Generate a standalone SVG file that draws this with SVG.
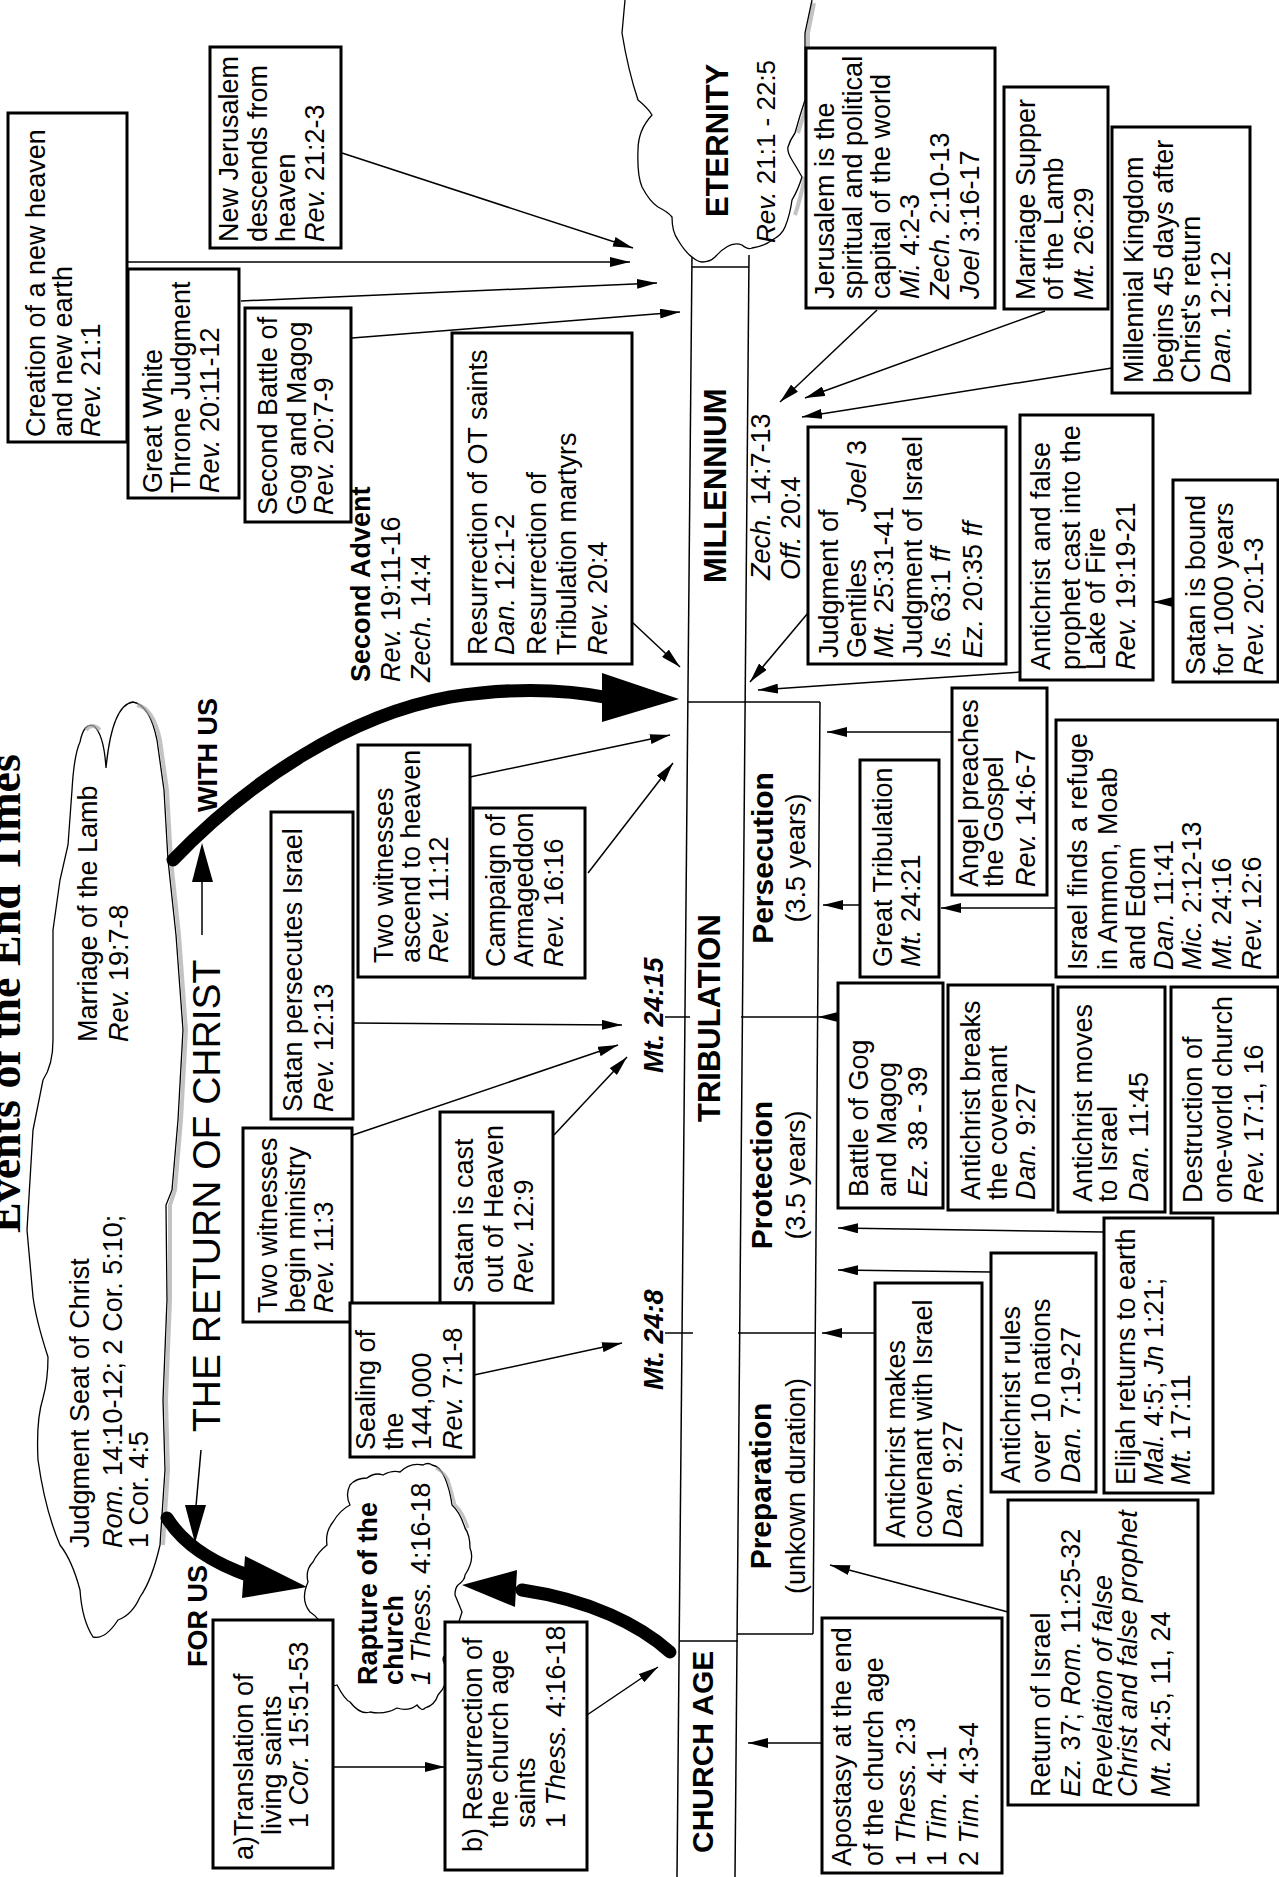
<svg xmlns="http://www.w3.org/2000/svg" width="1279" height="1877" viewBox="0 0 1279 1877">
<defs>
<marker id="ah" viewBox="0 0 20 10" refX="20" refY="5" markerWidth="20" markerHeight="10" markerUnits="userSpaceOnUse" orient="auto"><path d="M0,0 L20,5 L0,10 z" fill="#000"/></marker>
<style>
.t{font-family:"Liberation Sans",Arial,sans-serif;font-size:27px;fill:#000}
.b{font-weight:bold}
.i{font-style:italic}
.hd{font-size:31px;font-weight:bold}
.box{fill:#fff;stroke:#000;stroke-width:3}
.ln{fill:none;stroke:#000;stroke-width:1.5}
.cn{fill:none;stroke:#000;stroke-width:1.5;marker-end:url(#ah)}
.cl{fill:#fff;stroke:#000;stroke-width:1.3}
.sh{fill:none;stroke:#aaa;stroke-width:4;opacity:.7}
.thick{fill:none;stroke:#000;stroke-width:13;stroke-linecap:round}
</style>
</defs>
<rect width="1279" height="1877" fill="#fff"/>

<text id="title" class="t b" style="font-family:'Liberation Serif',serif;font-size:46px" transform="translate(20,1233) rotate(-90)">Events of the End Times</text>

<g id="timeline">
<line class="ln" x1="692" y1="255" x2="677" y2="1877"/>
<line class="ln" x1="749" y1="255" x2="735" y2="1877"/>
<line class="ln" x1="820" y1="702" x2="813" y2="1634"/>
<line class="ln" x1="692" y1="267" x2="749" y2="267"/>
<line class="ln" x1="688" y1="702" x2="820" y2="702"/>
<line class="ln" x1="741" y1="1017" x2="817" y2="1017"/>
<line class="ln" x1="738" y1="1333" x2="815" y2="1333"/>
<line class="ln" x1="679" y1="1641" x2="738" y2="1641"/>
<line class="ln" x1="737" y1="1634" x2="813" y2="1634"/>
<line class="ln" x1="665" y1="1017" x2="690" y2="1017"/>
<line class="ln" x1="665" y1="1333" x2="693" y2="1333"/>
<text class="t b" style="font-size:30px" transform="translate(713,1853) rotate(-90)">CHURCH AGE</text>
<text class="t hd" transform="translate(720,1122) rotate(-90)">TRIBULATION</text>
<text class="t hd" transform="translate(726,583) rotate(-90)">MILLENNIUM</text>
<text class="t" transform="translate(770,580) rotate(-90)"><tspan x="0" y="0"><tspan class="i">Zech.</tspan> 14:7-13</tspan><tspan x="0" y="30"><tspan class="i">Off.</tspan> 20:4</tspan></text>
<text class="t" text-anchor="middle" transform="translate(771,1486) rotate(-90)"><tspan x="0" y="0" class="b" style="font-size:30px">Preparation</tspan><tspan x="0" y="34">(unkown duration)</tspan></text>
<text class="t" text-anchor="middle" transform="translate(772,1175) rotate(-90)"><tspan x="0" y="0" class="b" style="font-size:30px">Protection</tspan><tspan x="0" y="33">(3.5 years)</tspan></text>
<text class="t" text-anchor="middle" transform="translate(773,858) rotate(-90)"><tspan x="0" y="0" class="b" style="font-size:30px">Persecution</tspan><tspan x="0" y="32">(3.5 years)</tspan></text>
<text class="t b i" transform="translate(663,1073) rotate(-90)">Mt. 24:15</text>
<text class="t b i" transform="translate(663,1390) rotate(-90)">Mt. 24:8</text>
</g>

<g id="eternity">
<path fill="#fff" d="M625,0 L622,33 Q628,70 638,100 Q648,108 652,115 Q638,130 638,150 Q637,175 642,187 Q650,202 658,207 Q668,212 672,217 Q672,232 678,240 Q685,252 692,257 Q698,262 702,262 Q710,262 715,257 Q730,240 742,245 Q748,250 752,248 Q765,246 772,240 Q782,235 785,227 Q790,215 792,200 Q798,190 802,177 Q797,168 792,160 Q787,152 788,147 Q790,140 795,133 Q800,115 805,100 L805,33 L812,0 Z"/>
<path class="sh" d="M814,3 L808,33 L808,100 Q803,118 798,133 M805,177 Q800,200 795,215"/>
<path class="ln" style="stroke-width:1.3" d="M625,0 L622,33 Q628,70 638,100 Q648,108 652,115 Q638,130 638,150 Q637,175 642,187 Q650,202 658,207 Q668,212 672,217 Q672,232 678,240 Q685,252 692,257 Q698,262 702,262 Q710,262 715,257 Q730,240 742,245 Q748,250 752,248 Q765,246 772,240 Q782,235 785,227 Q790,215 792,200 Q798,190 802,177 Q797,168 792,160 Q787,152 788,147 Q790,140 795,133 Q800,115 805,100 L805,33 L812,0"/>
<text class="t hd" transform="translate(728,217) rotate(-90)">ETERNITY</text>
<text class="t" style="font-size:26px" transform="translate(775,243) rotate(-90)"><tspan class="i">Rev.</tspan> 21:1 - 22:5</text>
</g>

<g id="bigcloud">
<path class="cl" d="M80,742 Q84,722 94,726 Q104,735 106,768 Q112,705 133,702 Q150,705 157,740 L164,790 L168,860 L176,935 L183,1030 L178,1120 L172,1190 L166,1205 L167,1300 L163,1400 L165,1470 L160,1545 Q152,1580 140,1597 Q132,1615 118,1620 Q105,1640 93,1637 Q82,1620 80,1590 Q72,1560 60,1545 Q45,1510 38,1460 Q36,1420 43,1398 Q48,1380 48,1357 Q36,1320 33,1297 L27,1230 L33,1130 L43,1080 Q53,1065 53,1040 L53,930 L60,880 L68,845 L72,790 Q74,755 80,742 Z"/>
<path class="sh" d="M137,705 Q153,708 160,740 L167,790 L171,860 L179,935 L186,1030 L181,1120 L175,1190 L170,1205 L170,1300 L166,1400 L168,1470 L163,1545 M86,730 Q92,722 100,730"/>
<text class="t" transform="translate(97,1042) rotate(-90)"><tspan x="0" y="0">Marriage of the Lamb</tspan><tspan x="0" y="31"><tspan class="i">Rev.</tspan> 19:7-8</tspan></text>
<text class="t" transform="translate(89,1548) rotate(-90)"><tspan x="0" y="0">Judgment Seat of Christ</tspan><tspan x="0" y="33"><tspan class="i">Rom.</tspan> 14:10-12; 2 Cor. 5:10;</tspan><tspan x="0" y="59">1 Cor. 4:5</tspan></text>
</g>

<g id="rapture">
<path class="cl" d="M308,1582 Q300,1600 310,1612 Q322,1620 320,1628 Q310,1640 313,1648 Q312,1670 320,1678 Q330,1688 337,1685 Q345,1700 350,1702 Q360,1715 370,1712 Q385,1715 397,1708 Q408,1712 417,1705 Q422,1712 425,1708 Q435,1705 438,1695 Q448,1685 448,1668 Q440,1660 445,1655 Q452,1650 452,1642 Q458,1625 462,1612 Q458,1602 455,1595 Q455,1588 458,1585 Q465,1580 465,1575 Q475,1560 470,1548 Q470,1535 465,1528 Q460,1512 452,1505 Q450,1490 445,1478 Q440,1466 432,1465 Q428,1462 423,1465 Q410,1462 400,1472 Q392,1470 383,1475 Q375,1472 367,1478 Q356,1478 350,1485 Q345,1495 350,1505 Q340,1510 333,1522 Q325,1532 327,1545 Q318,1552 313,1562 Q305,1570 308,1582 Z"/>
<path class="sh" style="stroke-width:3" d="M436,1468 Q446,1474 448,1480 Q452,1492 455,1505 Q463,1512 468,1528"/>
<text class="t" transform="translate(377,1685) rotate(-90)"><tspan x="0" y="0" class="b">Rapture of the</tspan><tspan x="0" y="26" class="b">church</tspan><tspan x="0" y="53"><tspan class="i">1 Thess.</tspan> 4:16-18</tspan></text>
</g>

<g id="connectors">
<line class="cn" x1="127" y1="262" x2="630" y2="262"/>
<line class="cn" x1="342" y1="153" x2="633" y2="248"/>
<line class="cn" x1="241" y1="301" x2="657" y2="283"/>
<line class="cn" x1="352" y1="338" x2="680" y2="312"/>
<line class="cn" x1="632" y1="622" x2="680" y2="667"/>
<line class="cn" x1="470" y1="777" x2="670" y2="735"/>
<line class="cn" x1="588" y1="873" x2="673" y2="763"/>
<line class="cn" x1="353" y1="1023" x2="622" y2="1025"/>
<line class="cn" x1="353" y1="1135" x2="618" y2="1045"/>
<line class="cn" x1="554" y1="1135" x2="627" y2="1057"/>
<line class="cn" x1="474" y1="1375" x2="622" y2="1343"/>
<line class="cn" x1="333" y1="1767" x2="445" y2="1767"/>
<line class="cn" x1="587" y1="1715" x2="658" y2="1667"/>
<line class="cn" x1="877" y1="310" x2="780" y2="402"/>
<line class="cn" x1="1045" y1="311" x2="805" y2="398"/>
<line class="cn" x1="1112" y1="368" x2="802" y2="417"/>
<line class="cn" x1="808" y1="613" x2="750" y2="682"/>
<line class="cn" x1="1020" y1="672" x2="758" y2="690"/>
<line class="cn" x1="1173" y1="602" x2="1153" y2="602"/>
<line class="cn" x1="952" y1="732" x2="827" y2="732"/>
<line class="cn" x1="1056" y1="908" x2="941" y2="908"/>
<line class="cn" x1="860" y1="905" x2="823" y2="905"/>
<line class="cn" x1="840" y1="1017" x2="818" y2="1017"/>
<line class="cn" x1="1104" y1="1232" x2="838" y2="1228"/>
<line class="cn" x1="991" y1="1272" x2="838" y2="1270"/>
<line class="cn" x1="875" y1="1333" x2="822" y2="1333"/>
<line class="cn" x1="1008" y1="1612" x2="830" y2="1565"/>
<line class="cn" x1="822" y1="1743" x2="748" y2="1743"/>
<path class="thick" d="M173,860 C250,780 350,715 450,697 C520,686 570,690 610,698"/>
<polygon points="602,673 679,699 602,722" fill="#000"/>
<path class="thick" d="M167,1518 Q190,1555 250,1576"/>
<polygon points="245,1556 307,1587 242,1598" fill="#000"/>
<path class="thick" d="M670,1652 C640,1625 590,1600 522,1590"/>
<polygon points="517,1570 462,1585 515,1607" fill="#000"/>
<line class="ln" x1="201" y1="1450" x2="196" y2="1506"/>
<polygon points="185,1505 195,1543 206,1505" fill="#000"/>
<line class="ln" x1="202" y1="935" x2="202" y2="880"/>
<polygon points="192,882 202,843 213,882" fill="#000"/>
</g>

<g id="returnofchrist">
<text class="t" style="font-size:39px" transform="translate(220,1432) rotate(-90)">THE RETURN OF CHRIST</text>
<text class="t b" transform="translate(217,812) rotate(-90)">WITH US</text>
<text class="t b" transform="translate(207,1667) rotate(-90)">FOR US</text>
</g>

<g id="secondadvent">
<text class="t" transform="translate(370,682) rotate(-90)"><tspan x="0" y="0" class="b">Second Advent</tspan><tspan x="0" y="30"><tspan class="i">Rev.</tspan> 19:11-16</tspan><tspan x="0" y="60"><tspan class="i">Zech.</tspan> 14:4</tspan></text>
</g>

<g id="creation"><rect class="box" x="8" y="113" width="119" height="329"/>
<text class="t" transform="translate(45,437) rotate(-90)"><tspan x="0" y="0">Creation of a new heaven</tspan><tspan x="0" y="27">and new earth</tspan><tspan x="0" y="55"><tspan class="i">Rev.</tspan> 21:1</tspan></text></g>

<g id="newjerusalem"><rect class="box" x="210" y="47" width="131" height="201"/>
<text class="t" transform="translate(238,242) rotate(-90)"><tspan x="0" y="0">New Jerusalem</tspan><tspan x="0" y="28.5">descends from</tspan><tspan x="0" y="57">heaven</tspan><tspan x="0" y="86"><tspan class="i">Rev.</tspan> 21:2-3</tspan></text></g>

<g id="greatwhite"><rect class="box" x="128" y="269" width="111" height="229"/>
<text class="t" transform="translate(162,493) rotate(-90)"><tspan x="0" y="0">Great White</tspan><tspan x="0" y="28">Throne Judgment</tspan><tspan x="0" y="57"><tspan class="i">Rev.</tspan> 20:11-12</tspan></text></g>

<g id="secondbattle"><rect class="box" x="245" y="308" width="106" height="214"/>
<text class="t" transform="translate(277,515) rotate(-90)"><tspan x="0" y="0">Second Battle of</tspan><tspan x="0" y="29">Gog and Magog</tspan><tspan x="0" y="56"><tspan class="i">Rev.</tspan> 20:7-9</tspan></text></g>

<g id="resurrectionot"><rect class="box" x="452" y="333" width="180" height="331"/>
<text class="t" transform="translate(487,655) rotate(-90)"><tspan x="0" y="0">Resurrection of OT saints</tspan><tspan x="0" y="27"><tspan class="i">Dan.</tspan> 12:1-2</tspan><tspan x="0" y="59">Resurrection of</tspan><tspan x="0" y="89">Tribulation martyrs</tspan><tspan x="0" y="120"><tspan class="i">Rev.</tspan> 20:4</tspan></text></g>

<g id="jerusalem"><rect class="box" x="806" y="48" width="189" height="260"/>
<text class="t" transform="translate(834,299) rotate(-90)"><tspan x="0" y="0">Jerusalem is the</tspan><tspan x="0" y="28">spiritual and political</tspan><tspan x="0" y="56">capital of the world</tspan><tspan x="0" y="85"><tspan class="i">Mi.</tspan> 4:2-3</tspan><tspan x="0" y="115"><tspan class="i">Zech.</tspan> 2:10-13</tspan><tspan x="0" y="145"><tspan class="i">Joel</tspan> 3:16-17</tspan></text></g>

<g id="marriagesupper"><rect class="box" x="1004" y="87" width="104" height="222"/>
<text class="t" transform="translate(1035,300) rotate(-90)"><tspan x="0" y="0">Marriage Supper</tspan><tspan x="0" y="28">of the Lamb</tspan><tspan x="0" y="58"><tspan class="i">Mt.</tspan> 26:29</tspan></text></g>

<g id="millennialkingdom"><rect class="box" x="1112" y="127" width="138" height="266"/>
<text class="t" transform="translate(1143,383) rotate(-90)"><tspan x="0" y="0">Millennial Kingdom</tspan><tspan x="0" y="30">begins 45 days after</tspan><tspan x="0" y="57">Christ's return</tspan><tspan x="0" y="87"><tspan class="i">Dan.</tspan> 12:12</tspan></text></g>

<g id="judgmentgentiles"><rect class="box" x="808" y="427" width="198" height="237"/>
<text class="t" transform="translate(838,658) rotate(-90)"><tspan x="0" y="0">Judgment of</tspan><tspan x="0" y="28">Gentiles</tspan><tspan x="146" y="28"><tspan class="i">Joel</tspan> 3</tspan><tspan x="0" y="55"><tspan class="i">Mt.</tspan> 25:31-41</tspan><tspan x="0" y="84">Judgment of Israel</tspan><tspan x="0" y="112"><tspan class="i">Is.</tspan> 63:1 <tspan class="i">ff</tspan></tspan><tspan x="0" y="144"><tspan class="i">Ez.</tspan> 20:35 <tspan class="i">ff</tspan></tspan></text></g>

<g id="antichristfalse"><rect class="box" x="1020" y="415" width="133" height="265"/>
<text class="t" transform="translate(1050,670) rotate(-90)"><tspan x="0" y="0">Antichrist and false</tspan><tspan x="0" y="30">prophet cast into the</tspan><tspan x="0" y="55">Lake of Fire</tspan><tspan x="0" y="85"><tspan class="i">Rev.</tspan> 19:19-21</tspan></text></g>

<g id="satanbound"><rect class="box" x="1173" y="480" width="105" height="202"/>
<text class="t" transform="translate(1205,675) rotate(-90)"><tspan x="0" y="0">Satan is bound</tspan><tspan x="0" y="28">for 1000 years</tspan><tspan x="0" y="58"><tspan class="i">Rev.</tspan> 20:1-3</tspan></text></g>

<g id="angel"><rect class="box" x="952" y="688" width="95" height="207"/>
<text class="t" transform="translate(978,887) rotate(-90)"><tspan x="0" y="0">Angel preaches</tspan><tspan x="0" y="25">the Gospel</tspan><tspan x="0" y="57"><tspan class="i">Rev.</tspan> 14:6-7</tspan></text></g>

<g id="greattribulation"><rect class="box" x="860" y="760" width="79" height="217"/>
<text class="t" transform="translate(892,967) rotate(-90)"><tspan x="0" y="0">Great Tribulation</tspan><tspan x="0" y="28"><tspan class="i">Mt.</tspan> 24:21</tspan></text></g>

<g id="israelrefuge"><rect class="box" x="1056" y="720" width="222" height="257"/>
<text class="t" transform="translate(1087,970) rotate(-90)"><tspan x="0" y="0">Israel finds a refuge</tspan><tspan x="0" y="30">in Ammon, Moab</tspan><tspan x="0" y="58">and Edom</tspan><tspan x="0" y="86"><tspan class="i">Dan.</tspan> 11:41</tspan><tspan x="0" y="114"><tspan class="i">Mic.</tspan> 2:12-13</tspan><tspan x="0" y="144"><tspan class="i">Mt.</tspan> 24:16</tspan><tspan x="0" y="174"><tspan class="i">Rev.</tspan> 12:6</tspan></text></g>

<g id="satanpersecutes"><rect class="box" x="271" y="812" width="82" height="307"/>
<text class="t" transform="translate(302,1112) rotate(-90)"><tspan x="0" y="0">Satan persecutes Israel</tspan><tspan x="0" y="31"><tspan class="i">Rev.</tspan> 12:13</tspan></text></g>

<g id="twowitnessesascend"><rect class="box" x="358" y="745" width="112" height="232"/>
<text class="t" transform="translate(393,963) rotate(-90)"><tspan x="0" y="0">Two witnesses</tspan><tspan x="0" y="27">ascend to heaven</tspan><tspan x="0" y="55"><tspan class="i">Rev.</tspan> 11:12</tspan></text></g>

<g id="campaign"><rect class="box" x="473" y="808" width="112" height="170"/>
<text class="t" transform="translate(505,967) rotate(-90)"><tspan x="0" y="0">Campaign of</tspan><tspan x="0" y="28">Armageddon</tspan><tspan x="0" y="58"><tspan class="i">Rev.</tspan> 16:16</tspan></text></g>

<g id="twowitnessesbegin"><rect class="box" x="243" y="1128" width="109" height="194"/>
<text class="t" transform="translate(277,1313) rotate(-90)"><tspan x="0" y="0">Two witnesses</tspan><tspan x="0" y="28">begin ministry</tspan><tspan x="0" y="56"><tspan class="i">Rev.</tspan> 11:3</tspan></text></g>

<g id="satancast"><rect class="box" x="440" y="1112" width="113" height="191"/>
<text class="t" transform="translate(473,1293) rotate(-90)"><tspan x="0" y="0">Satan is cast</tspan><tspan x="0" y="30">out of Heaven</tspan><tspan x="0" y="60"><tspan class="i">Rev.</tspan> 12:9</tspan></text></g>

<g id="sealing"><rect class="box" x="350" y="1303" width="124" height="154"/>
<text class="t" transform="translate(375,1450) rotate(-90)"><tspan x="0" y="0">Sealing of</tspan><tspan x="0" y="28">the</tspan><tspan x="0" y="56">144,000</tspan><tspan x="0" y="87"><tspan class="i">Rev.</tspan> 7:1-8</tspan></text></g>

<g id="battlegog"><rect class="box" x="838" y="983" width="105" height="225"/>
<text class="t" transform="translate(868,1197) rotate(-90)"><tspan x="0" y="0">Battle of Gog</tspan><tspan x="0" y="28">and Magog</tspan><tspan x="0" y="59"><tspan class="i">Ez.</tspan> 38 - 39</tspan></text></g>

<g id="antichristbreaks"><rect class="box" x="948" y="985" width="105" height="225"/>
<text class="t" transform="translate(980,1200) rotate(-90)"><tspan x="0" y="0">Antichrist breaks</tspan><tspan x="0" y="27">the covenant</tspan><tspan x="0" y="55"><tspan class="i">Dan.</tspan> 9:27</tspan></text></g>

<g id="antichristmoves"><rect class="box" x="1058" y="987" width="107" height="225"/>
<text class="t" transform="translate(1092,1202) rotate(-90)"><tspan x="0" y="0">Antichrist moves</tspan><tspan x="0" y="25">to Israel</tspan><tspan x="0" y="56"><tspan class="i">Dan.</tspan> 11:45</tspan></text></g>

<g id="destruction"><rect class="box" x="1171" y="987" width="107" height="226"/>
<text class="t" transform="translate(1202,1203) rotate(-90)"><tspan x="0" y="0">Destruction of</tspan><tspan x="0" y="30">one-world church</tspan><tspan x="0" y="61"><tspan class="i">Rev.</tspan> 17:1, 16</tspan></text></g>

<g id="antichristmakes"><rect class="box" x="875" y="1283" width="107" height="262"/>
<text class="t" transform="translate(905,1538) rotate(-90)"><tspan x="0" y="0">Antichrist makes</tspan><tspan x="0" y="27">covenant with Israel</tspan><tspan x="0" y="57"><tspan class="i">Dan.</tspan> 9:27</tspan></text></g>

<g id="antichristrules"><rect class="box" x="991" y="1253" width="105" height="239"/>
<text class="t" transform="translate(1020,1483) rotate(-90)"><tspan x="0" y="0">Antichrist rules</tspan><tspan x="0" y="30">over 10 nations</tspan><tspan x="0" y="60"><tspan class="i">Dan.</tspan> 7:19-27</tspan></text></g>

<g id="elijah"><rect class="box" x="1104" y="1218" width="109" height="275"/>
<text class="t" transform="translate(1135,1485) rotate(-90)"><tspan x="0" y="0">Elijah returns to earth</tspan><tspan x="0" y="28"><tspan class="i">Mal.</tspan> 4:5;  <tspan class="i">Jn</tspan> 1:21;</tspan><tspan x="0" y="55"><tspan class="i">Mt.</tspan> 17:11</tspan></text></g>

<g id="returnisrael"><rect class="box" x="1008" y="1500" width="190" height="305"/>
<text class="t" transform="translate(1050,1797) rotate(-90)"><tspan x="0" y="0">Return of Israel</tspan><tspan x="0" y="30"><tspan class="i">Ez.</tspan> 37;  <tspan class="i">Rom.</tspan> 11:25-32</tspan><tspan x="0" y="62" class="i">Revelation of false</tspan><tspan x="0" y="87" class="i">Christ and false prophet</tspan><tspan x="0" y="120"><tspan class="i">Mt.</tspan> 24:5, 11, 24</tspan></text></g>

<g id="apostasy"><rect class="box" x="822" y="1618" width="180" height="255"/>
<text class="t" transform="translate(851,1866) rotate(-90)"><tspan x="0" y="0">Apostasy at the end</tspan><tspan x="0" y="32">of the church age</tspan><tspan x="0" y="64">1 <tspan class="i">Thess.</tspan> 2:3</tspan><tspan x="0" y="95">1 <tspan class="i">Tim.</tspan> 4:1</tspan><tspan x="0" y="127">2 <tspan class="i">Tim.</tspan> 4:3-4</tspan></text></g>

<g id="translation"><rect class="box" x="213" y="1620" width="120" height="248"/>
<text class="t" transform="translate(253,1860) rotate(-90)"><tspan x="0" y="0">a)Translation of</tspan><tspan x="25" y="28">living saints</tspan><tspan x="32" y="55">1 <tspan class="i">Cor.</tspan> 15:51-53</tspan></text></g>

<g id="resurrectionchurch"><rect class="box" x="445" y="1622" width="142" height="248"/>
<text class="t" transform="translate(482,1852) rotate(-90)"><tspan x="0" y="0">b) Resurrection of</tspan><tspan x="24" y="26">the church age</tspan><tspan x="24" y="53">saints</tspan><tspan x="24" y="83">1 <tspan class="i">Thess.</tspan> 4:16-18</tspan></text></g>
</svg>
